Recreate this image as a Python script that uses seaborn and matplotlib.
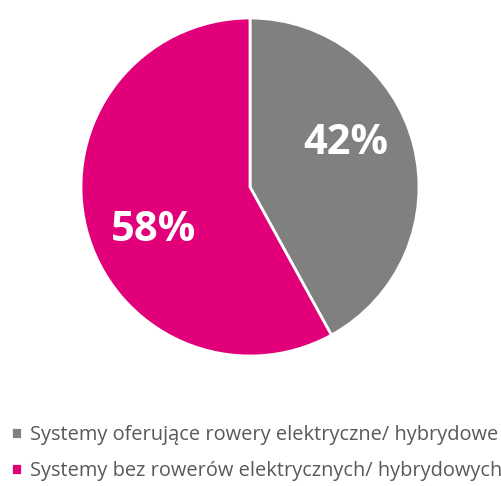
import numpy as np
import matplotlib
matplotlib.use("Agg")
import matplotlib.pyplot as plt
import seaborn as sns

categories = ["Systemy oferujące rowery elektryczne/ hybrydowe",
              "Systemy bez rowerów elektrycznych/ hybrydowych"]
shares = [42, 58]
colors = ["#808080", "#E2007A"]

sns.set_theme(style="white")
plt.rcParams["font.family"] = ["Open Sans", "DejaVu Sans"]

fig = plt.figure(figsize=(5.02, 4.86), dpi=100)
ax = fig.add_axes([81 / 502, 1 - 356 / 486, 338 / 502, 338 / 486])

wedges, _ = ax.pie(shares, colors=colors, startangle=90, counterclock=False,
                   radius=1, wedgeprops=dict(edgecolor="white", linewidth=2))
ax.set_xlim(-1, 1)
ax.set_ylim(-1, 1)
ax.set_aspect("equal")
ax.axis("off")

# percentage labels placed inside each wedge
for w, v in zip(wedges, shares):
    ang = np.deg2rad((w.theta1 + w.theta2) / 2 + 10)
    ax.text(0.625 * np.cos(ang), 0.625 * np.sin(ang), f"{v}%",
            ha="center", va="center", color="white",
            fontsize=30, fontweight="bold")

fig.legend(wedges, categories, loc="upper left", bbox_to_anchor=(11 / 502, 1 - 425 / 486),
           frameon=False, borderpad=0, borderaxespad=0,
           handlelength=0.55, handleheight=0.55, handletextpad=0.4,
           labelspacing=0.8, fontsize=14.4, labelcolor="#595959")

fig.savefig("out.png", dpi=100)
